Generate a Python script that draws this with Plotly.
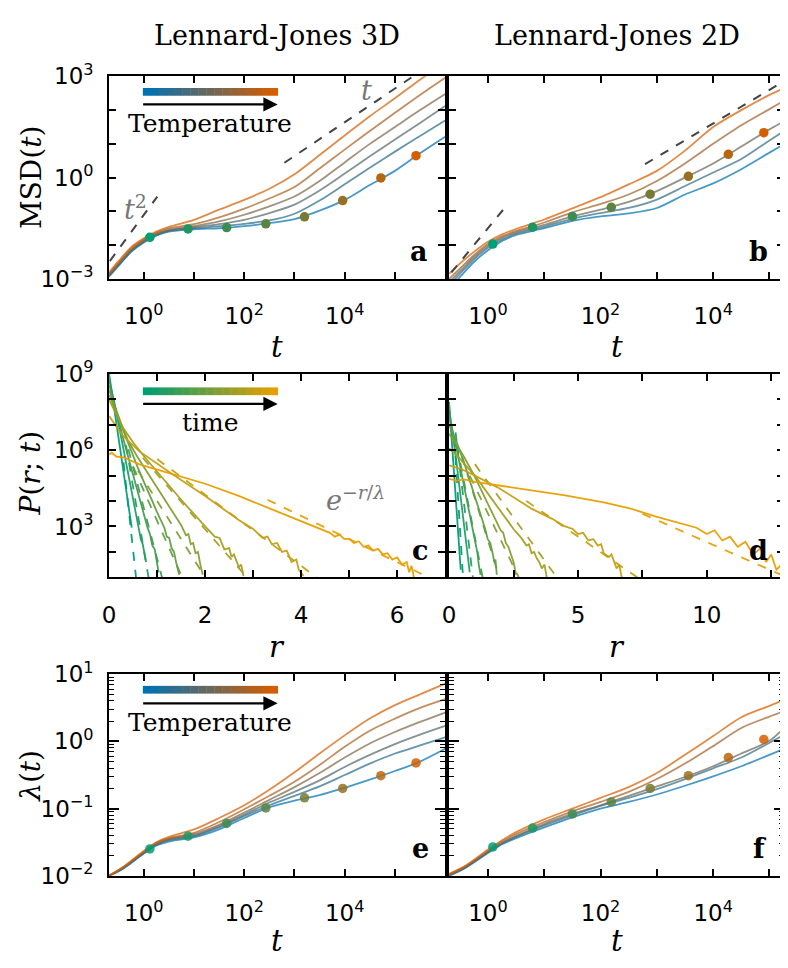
import numpy as np
import plotly.graph_objects as go

# ---------------- DATA ----------------
# Panel a: MSD(t), Lennard-Jones 3D (values are log10 of MSD), 6 temperatures (low -> high)
t_msd3d = [0.2, 0.32, 0.56, 1, 1.78, 3.16, 10, 31.6, 100, 316, 1000, 3162, 1e4, 3.16e4, 1e5, 3.16e5, 1e6]
msd3d_log10 = [
    [-2.94, -2.60, -2.20, -1.92, -1.72, -1.60, -1.53, -1.50, -1.44, -1.35, -1.23, -0.98, -0.66, -0.22, 0.20, 0.72, 1.21],
    [-2.92, -2.58, -2.18, -1.90, -1.70, -1.58, -1.50, -1.44, -1.37, -1.27, -1.07, -0.68, -0.20, 0.29, 0.77, 1.23, 1.69],
    [-2.90, -2.56, -2.16, -1.88, -1.68, -1.56, -1.47, -1.38, -1.25, -1.05, -0.80, -0.38, 0.12, 0.63, 1.13, 1.62, 2.12],
    [-2.88, -2.54, -2.14, -1.86, -1.66, -1.54, -1.44, -1.30, -1.10, -0.85, -0.56, -0.10, 0.45, 1.00, 1.50, 2.00, 2.48],
    [-2.86, -2.50, -2.10, -1.83, -1.63, -1.50, -1.38, -1.18, -0.92, -0.62, -0.28, 0.27, 0.83, 1.38, 1.92, 2.45, 2.96],
    [-2.82, -2.46, -2.06, -1.80, -1.60, -1.46, -1.25, -0.95, -0.66, -0.33, 0.10, 0.67, 1.25, 1.82, 2.35, 2.90, 3.42],
]
t_dots3d = [1.32, 7.6, 44.7, 269, 1585, 9120, 52500, 263000]
msd3d_dots_log10 = [-1.77, -1.52, -1.48, -1.37, -1.16, -0.68, -0.01, 0.65]
guide_t2_3d_t = [0.21, 1.86]
guide_t2_3d_msd = [3.35e-3, 0.275]
guide_t1_3d_t = [630, 2.3e5]
guide_t1_3d_msd = [2.75, 1000]

# Panel b: MSD(t), Lennard-Jones 2D, 5 temperatures
t_msd2d = [0.204, 0.316, 0.562, 1, 1.78, 3.16, 10, 31.6, 100, 316, 1000, 3162, 1e4, 3.16e4, 1e5, 1.82e5]
msd2d_log10 = [
    [-3.30, -2.95, -2.50, -2.15, -1.88, -1.70, -1.50, -1.28, -1.15, -1.06, -0.90, -0.50, -0.17, 0.25, 0.74, 0.99],
    [-3.20, -2.85, -2.42, -2.08, -1.83, -1.66, -1.45, -1.22, -1.05, -0.90, -0.65, -0.25, 0.15, 0.55, 1.10, 1.38],
    [-3.10, -2.78, -2.36, -2.02, -1.78, -1.62, -1.40, -1.15, -0.95, -0.72, -0.40, 0.00, 0.42, 0.92, 1.43, 1.67],
    [-3.00, -2.70, -2.30, -1.97, -1.74, -1.58, -1.33, -1.03, -0.78, -0.50, -0.10, 0.42, 1.00, 1.55, 2.03, 2.28],
    [-2.85, -2.55, -2.20, -1.90, -1.68, -1.52, -1.24, -0.91, -0.58, -0.20, 0.20, 0.80, 1.50, 2.00, 2.45, 2.65],
]
t_dots2d = [1.22, 6.2, 31.6, 155, 760, 3630, 18600, 79400]
msd2d_dots_log10 = [-1.97, -1.47, -1.15, -0.88, -0.49, 0.04, 0.69, 1.33]
guide_t2_2d_t = [0.224, 2.09]
guide_t2_2d_msd = [1.55e-3, 0.141]
guide_t1_2d_t = [617, 1.82e5]
guide_t1_2d_msd = [2.51, 724]

# Panel c: P(r;t), 3D, 8 times (log10 of P); solid = data, dashed = exponential fit
p3d_r = [
    [0, 0.1, 0.2, 0.3, 0.4, 0.47],
    [0, 0.1, 0.2, 0.3, 0.4, 0.5, 0.6, 0.66, 0.7, 0.74, 0.77],
    [0, 0.1, 0.2, 0.3, 0.4, 0.5, 0.6, 0.7, 0.8, 0.85, 0.9, 0.95, 1.0, 1.03],
    [0, 0.1, 0.2, 0.3, 0.4, 0.5, 0.6, 0.7, 0.8, 0.9, 1.0, 1.1, 1.15, 1.2, 1.25, 1.3, 1.35, 1.4, 1.46],
    [0, 0.1, 0.2, 0.3, 0.4, 0.6, 0.8, 1.0, 1.2, 1.4, 1.5, 1.6, 1.65, 1.7, 1.75, 1.8, 1.85, 1.9, 1.95],
    [0, 0.1, 0.2, 0.3, 0.5, 0.75, 1.0, 1.5, 2.0, 2.2, 2.3, 2.4, 2.5, 2.55, 2.6, 2.7, 2.75, 2.8],
    [0, 0.28, 0.63, 1.0, 1.32, 2.0, 2.7, 3.0, 3.2, 3.3, 3.39, 3.5, 3.6, 3.7, 3.8, 3.9, 3.95, 4.05],
    [0, 0.05, 0.15, 0.3, 0.63, 1.0, 1.32, 2.0, 2.7, 3.39, 4.0, 4.5, 4.6, 4.7, 4.8, 4.9, 5.0, 5.1, 5.2,
     5.3, 5.4, 5.5, 5.6, 5.7, 5.8, 5.9, 6.0, 6.1, 6.2, 6.25, 6.3, 6.35, 6.4],
]
p3d_log10 = [
    [9.0, 7.75, 6.45, 5.1, 3.85, 2.95],
    [8.75, 7.95, 7.0, 6.0, 5.0, 4.0, 3.0, 2.5, 2.3, 1.8, 1.6],
    [8.55, 7.9, 7.15, 6.4, 5.7, 5.0, 4.3, 3.6, 2.95, 2.7, 2.25, 2.1, 1.6, 1.2],
    [8.35, 7.85, 7.3, 6.75, 6.25, 5.75, 5.3, 4.85, 4.45, 4.0, 3.55, 3.1, 2.95, 2.6, 2.55, 2.15, 2.0, 1.55, 1.1],
    [8.16, 7.7, 7.2, 6.75, 6.35, 5.7, 5.1, 4.5, 3.9, 3.3, 3.05, 2.65, 2.7, 2.3, 2.35, 1.95, 2.0, 1.5, 1.1],
    [7.97, 7.6, 7.2, 6.85, 6.3, 5.7, 5.15, 4.05, 3.0, 2.6, 2.55, 2.1, 2.15, 1.8, 1.9, 1.4, 1.5, 1.05],
    [7.34, 6.58, 5.95, 5.45, 5.05, 4.2, 3.25, 2.9, 2.55, 2.6, 2.3, 2.35, 2.0, 2.05, 1.6, 1.7, 1.3, 1.05],
    [5.82, 5.9, 5.75, 5.72, 5.44, 5.25, 5.06, 4.68, 4.2, 3.67, 3.2, 2.8, 2.75, 2.6, 2.68, 2.5, 2.52, 2.35, 2.42,
     2.2, 2.25, 2.05, 2.12, 1.9, 1.95, 1.7, 1.78, 1.5, 1.6, 1.2, 1.45, 1.0, 0.9],
]
fit3d_r = [[0.3, 0.56], [0.35, 0.82], [0.4, 1.1], [0.5, 1.52], [0.6, 2.0], [0.7, 2.87], [1.0, 4.32], [3.3, 6.6]]
fit3d_log10 = [[5.52, 1.0], [6.2, 1.0], [6.04, 1.0], [5.35, 1.0], [5.2, 1.0], [5.7, 1.0], [5.65, 1.0], [4.05, 1.05]]

# Panel d: P(r;t), 2D, 8 times
p2d_r = [
    [0, 0.1, 0.2, 0.3, 0.4, 0.45],
    [0, 0.15, 0.3, 0.45, 0.6, 0.75, 0.8],
    [0, 0.2, 0.4, 0.6, 0.8, 1.0, 1.1, 1.15, 1.22],
    [0, 0.3, 0.6, 0.9, 1.2, 1.4, 1.5, 1.6, 1.7, 1.75, 1.8, 1.85],
    [0, 0.3, 0.6, 1.0, 1.5, 1.8, 2.0, 2.1, 2.2, 2.3, 2.4, 2.5, 2.6],
    [0, 0.3, 0.6, 1.0, 1.5, 2.0, 2.5, 2.8, 3.0, 3.1, 3.2, 3.3, 3.4, 3.5, 3.6, 3.7, 3.79],
    [0, 0.5, 1.0, 1.94, 2.5, 3.2, 4.0, 4.5, 4.8, 5.0, 5.2, 5.4, 5.6, 5.77, 5.9, 6.0, 6.2, 6.3, 6.5, 6.6, 6.7],
    [0, 0.3, 0.6, 1.0, 2.0, 3.0, 4.5, 6.0, 7.05, 8.0, 9.0, 9.6, 10.0, 10.3, 10.6, 10.9, 11.2, 11.5, 11.8,
     12.1, 12.3, 12.5, 12.7, 12.9, 13.0],
]
p2d_log10 = [
    [7.89, 6.5, 5.0, 3.4, 2.0, 1.3],
    [7.6, 6.6, 5.4, 4.1, 2.85, 1.6, 1.2],
    [7.29, 6.5, 5.5, 4.45, 3.4, 2.35, 1.95, 1.5, 1.1],
    [7.0, 6.3, 5.45, 4.5, 3.5, 2.9, 2.5, 2.35, 1.9, 1.6, 1.7, 1.1],
    [6.64, 6.2, 5.7, 4.95, 3.9, 3.25, 2.85, 2.75, 2.35, 2.2, 1.85, 1.6, 1.1],
    [6.07, 5.8, 5.45, 5.0, 4.3, 3.6, 2.9, 2.55, 2.25, 2.3, 1.95, 2.0, 1.75, 1.6, 1.35, 1.5, 1.0],
    [5.40, 5.25, 5.0, 4.5, 4.15, 3.7, 3.3, 3.0, 2.9, 2.7, 2.75, 2.45, 2.5, 2.25, 2.3, 1.95, 1.8, 1.9, 1.35, 1.5, 1.0],
    [4.87, 4.8, 4.85, 4.75, 4.6, 4.45, 4.22, 3.95, 3.7, 3.4, 3.1, 2.95, 2.7, 2.85, 2.45, 2.6, 2.2, 2.4, 1.9,
     2.15, 1.6, 1.9, 1.3, 1.5, 1.15],
]
fit2d_r = [[0.2, 0.54], [0.25, 0.92], [0.3, 1.3], [0.5, 1.95], [0.8, 2.7], [1.0, 4.18], [3.0, 7.3], [7.5, 13.0]]
fit2d_log10 = [[6.47, 1.0], [6.7, 1.0], [6.2, 1.0], [5.75, 1.0], [5.0, 1.0], [5.45, 1.0], [4.0, 1.0], [3.5, 1.05]]

# Panel e: lambda(t), 3D, 6 temperatures (log10 of lambda)
t_lam3d = [0.204, 0.398, 1, 1.78, 3.16, 10, 31.6, 100, 316, 1000, 3162, 1e4, 3.16e4, 1e5, 3.16e5, 1e6]
lam3d_log10 = [
    [-2.0, -1.89, -1.67, -1.55, -1.49, -1.43, -1.31, -1.14, -0.98, -0.88, -0.80, -0.69, -0.57, -0.44, -0.30, -0.11],
    [-2.0, -1.88, -1.66, -1.54, -1.47, -1.41, -1.28, -1.11, -0.95, -0.81, -0.67, -0.50, -0.33, -0.18, -0.06, 0.06],
    [-2.0, -1.88, -1.66, -1.53, -1.46, -1.40, -1.26, -1.09, -0.91, -0.75, -0.58, -0.38, -0.20, -0.04, 0.10, 0.23],
    [-2.0, -1.87, -1.65, -1.52, -1.45, -1.38, -1.24, -1.06, -0.87, -0.68, -0.47, -0.24, -0.03, 0.14, 0.29, 0.43],
    [-2.0, -1.87, -1.64, -1.51, -1.44, -1.36, -1.20, -1.01, -0.81, -0.60, -0.35, -0.08, 0.16, 0.34, 0.50, 0.63],
    [-2.0, -1.86, -1.63, -1.50, -1.42, -1.31, -1.14, -0.95, -0.72, -0.46, -0.18, 0.09, 0.34, 0.54, 0.70, 0.86],
]
lam3d_dots_log10 = [-1.60, -1.41, -1.22, -0.99, -0.84, -0.70, -0.51, -0.32]

# Panel f: lambda(t), 2D, 5 temperatures
t_lam2d = [0.204, 0.398, 1, 1.78, 3.16, 10, 31.6, 100, 316, 1000, 3162, 1e4, 3.16e4, 1e5, 1.82e5]
lam2d_log10 = [
    [-2.0, -1.88, -1.66, -1.53, -1.44, -1.28, -1.13, -1.00, -0.90, -0.79, -0.66, -0.52, -0.37, -0.20, -0.11],
    [-2.0, -1.88, -1.65, -1.52, -1.42, -1.25, -1.10, -0.96, -0.84, -0.71, -0.56, -0.40, -0.24, -0.02, 0.10],
    [-1.99, -1.87, -1.64, -1.51, -1.41, -1.23, -1.08, -0.95, -0.81, -0.67, -0.53, -0.37, -0.18, 0.01, 0.20],
    [-1.98, -1.86, -1.63, -1.49, -1.38, -1.20, -1.04, -0.90, -0.75, -0.56, -0.33, -0.07, 0.20, 0.37, 0.45],
    [-1.97, -1.85, -1.61, -1.47, -1.35, -1.16, -1.00, -0.84, -0.68, -0.47, -0.20, 0.08, 0.36, 0.53, 0.62],
]
lam2d_dots_log10 = [-1.57, -1.29, -1.08, -0.90, -0.70, -0.51, -0.24, 0.03]

# ---------------- STYLE ----------------
W, H = 788, 968
OX, OY = 8, 8  # page body margin: the figure is drawn 8 px right and down from the window corner
BLUE, VERM = (0, 114, 178), (213, 94, 0)
GREEN, ORANGE = (0, 158, 115), (230, 159, 0)
SERIF = "DejaVu Serif"
SANS = "DejaVu Sans"


def lerp(c0, c1, f):
    return tuple(round(c0[i] + (c1[i] - c0[i]) * f) for i in range(3))


def rgba(c, a=1.0):
    return f"rgba({c[0]},{c[1]},{c[2]},{a})"


def ramp(c0, c1, n):
    return [lerp(c0, c1, i / (n - 1)) for i in range(n)]


def pxx(px):  # window pixel -> paper fraction
    return (px - OX) / W


def pxy(py):
    return 1 - (py - OY) / H


fig = go.Figure()

panels = {  # left, right, top, bottom in window pixels
    1: (103, 442, 61, 270), 2: (446, 784, 61, 270),
    3: (103, 442, 368, 578), 4: (446, 784, 368, 578),
    5: (103, 442, 678, 886), 6: (446, 784, 678, 886),
}


def axn(i):
    return ("x" if i == 1 else f"x{i}"), ("y" if i == 1 else f"y{i}")


def line(i, x, y, color, width=1.8, dash=None, shape="linear"):
    xa, ya = axn(i)
    fig.add_trace(go.Scatter(x=x, y=y, mode="lines", xaxis=xa, yaxis=ya, showlegend=False,
                             hoverinfo="skip",
                             line=dict(color=color, width=width, dash=dash, shape=shape,
                                       smoothing=0.8 if shape == "spline" else None)))


def dots(i, x, y, colors):
    xa, ya = axn(i)
    fig.add_trace(go.Scatter(x=x, y=y, mode="markers", xaxis=xa, yaxis=ya, showlegend=False,
                             hoverinfo="skip", marker=dict(size=9.5, color=colors, line=dict(width=0))))


def p10(v):
    return [10 ** a for a in v]


dot_cols = ramp(GREEN, VERM, 8)

# Panel a
cols = ramp(BLUE, VERM, len(msd3d_log10))
for k, row in enumerate(msd3d_log10):
    line(1, t_msd3d, p10(row), rgba(cols[k], 0.72), shape="spline")
line(1, guide_t2_3d_t, guide_t2_3d_msd, "#444444", 2, "dash")
line(1, guide_t1_3d_t, guide_t1_3d_msd, "#444444", 2, "dash")
dots(1, t_dots3d, p10(msd3d_dots_log10), [rgba(c) for c in dot_cols])

# Panel b
cols = ramp(BLUE, VERM, len(msd2d_log10))
for k, row in enumerate(msd2d_log10):
    line(2, t_msd2d, p10(row), rgba(cols[k], 0.72), shape="spline")
line(2, guide_t2_2d_t, guide_t2_2d_msd, "#444444", 2, "dash")
line(2, guide_t1_2d_t, guide_t1_2d_msd, "#444444", 2, "dash")
dots(2, t_dots2d, p10(msd2d_dots_log10), [rgba(c) for c in dot_cols])

# Panel c
tcols = ramp(GREEN, ORANGE, 8)
for k in range(8):
    line(3, fit3d_r[k], p10(fit3d_log10[k]), rgba(tcols[k], 0.95), 1.8, "dash")
    line(3, p3d_r[k], p10(p3d_log10[k]), rgba(tcols[k], 0.95), 1.8)

# Panel d
for k in range(8):
    line(4, fit2d_r[k], p10(fit2d_log10[k]), rgba(tcols[k], 0.95), 1.8, "dash")
    line(4, p2d_r[k], p10(p2d_log10[k]), rgba(tcols[k], 0.95), 1.8)

# Panel e
cols = ramp(BLUE, VERM, len(lam3d_log10))
for k, row in enumerate(lam3d_log10):
    line(5, t_lam3d, p10(row), rgba(cols[k], 0.72), shape="spline")
dots(5, t_dots3d, p10(lam3d_dots_log10), [rgba(c, 0.85) for c in dot_cols])

# Panel f
cols = ramp(BLUE, VERM, len(lam2d_log10))
for k, row in enumerate(lam2d_log10):
    line(6, t_lam2d, p10(row), rgba(cols[k], 0.72), shape="spline")
dots(6, t_dots2d, p10(lam2d_dots_log10), [rgba(c, 0.85) for c in dot_cols])

# ---------------- AXES ----------------
def sup(e):
    s = str(e).replace("-", "\u2212")
    return f"10<sup>{s}</sup>"


TICKLEN = 7
base = dict(showline=True, linecolor="black", linewidth=2, mirror="ticks", ticks="inside",
            ticklen=TICKLEN, tickwidth=1.5, tickcolor="black", showgrid=False, zeroline=False,
            tickfont=dict(family=SANS, size=23, color="black"))


def minor_ticks(vals, ln=TICKLEN, w=1.5):
    return dict(tickmode="array", tickvals=vals, ticks="inside", ticklen=ln,
                tickwidth=w, tickcolor="black", showgrid=False)


layout = {}
for i, (l, r, t, b) in panels.items():
    xk = "xaxis" if i == 1 else f"xaxis{i}"
    yk = "yaxis" if i == 1 else f"yaxis{i}"
    xa, ya = axn(i)
    xd = dict(base, domain=[pxx(l), pxx(r)], anchor=ya, ticklabelstandoff=16)
    yd = dict(base, domain=[pxy(b), pxy(t)], anchor=xa, ticklabelstandoff=9)
    if i in (1, 2, 5, 6):
        xd.update(type="log", range=[-0.69, 6.0 if i in (1, 5) else 5.26],
                  tickmode="array", tickvals=[1, 100, 1e4], ticktext=[sup(0), sup(2), sup(4)],
                  minor=minor_ticks([10, 1000, 1e5]))
    if i in (1, 2):
        yd.update(type="log", range=[-3, 3], tickmode="array",
                  tickvals=[1e-3, 1, 1e3], ticktext=[sup(-3), sup(0), sup(3)],
                  minor=minor_ticks([1e-2, 1e-1, 10, 100]))
    if i in (3, 4):
        yd.update(type="log", range=[1, 9], tickmode="array",
                  tickvals=[1e3, 1e6, 1e9], ticktext=[sup(3), sup(6), sup(9)],
                  minor=minor_ticks([1e1, 1e2, 1e4, 1e5, 1e7, 1e8]))
    if i == 3:
        xd.update(range=[0, 7], tickmode="array", tickvals=[0, 2, 4, 6],
                  ticktext=["0", "2", "4", "6"], minor=minor_ticks([1, 3, 5]))
    if i == 4:
        xd.update(range=[0, 13], tickmode="array", tickvals=[0, 5, 10],
                  ticktext=["0", "5", "10"], minor=minor_ticks([2.5, 7.5, 12.5]))
    if i in (5, 6):
        minors = [m * 10 ** k for k in (-2, -1, 0) for m in range(2, 10)]
        yd.update(type="log", range=[-2, 1], tickmode="array", ticklen=10,
                  tickvals=[0.01, 0.1, 1, 10], ticktext=[sup(-2), sup(-1), sup(0), sup(1)],
                  minor=minor_ticks(minors, 5, 1.2))
    if i in (2, 4, 6):
        yd.update(showticklabels=False)
    layout[xk] = xd
    layout[yk] = yd

fig.update_layout(**layout)

# ---------------- DECORATIONS ----------------
ann = []
shapes = []


def text(px, py, s, size=24, color="black", family=SERIF, angle=0):
    ann.append(dict(x=pxx(px), y=pxy(py), xref="paper", yref="paper", text=s, showarrow=False,
                    xanchor="center", yanchor="middle", textangle=angle,
                    font=dict(family=family, size=size, color=color)))


def colorbar(x0, x1, ytop, ybot, c0, c1, n=17):
    step = (x1 - x0) / n
    for k, c in enumerate(ramp(c0, c1, n)):
        shapes.append(dict(type="rect", xref="paper", yref="paper",
                           x0=pxx(x0 + k * step), x1=pxx(x0 + (k + 1) * step + 0.4),
                           y0=pxy(ybot), y1=pxy(ytop), line=dict(width=0), fillcolor=rgba(c)))


def arrow(x0, x1, y):
    ann.append(dict(x=pxx(x1), y=pxy(y), xref="paper", yref="paper", ax=-(x1 - x0), ay=0,
                    axref="pixel", ayref="pixel", text="", showarrow=True, arrowhead=2,
                    arrowsize=1.3, arrowwidth=2.2, arrowcolor="black", standoff=0))


text(272, 19, "Lennard-Jones 3D", 27)
text(615, 19, "Lennard-Jones 2D", 27)

colorbar(137, 273, 73, 81, BLUE, VERM)
arrow(137, 273, 90)
text(205, 110, "Temperature", 25)

colorbar(137, 273, 382, 390, GREEN, ORANGE)
arrow(137, 273, 399)
text(205, 418, "time", 25)

colorbar(137, 273, 690, 698, BLUE, VERM)
arrow(137, 273, 708)
text(205, 728, "Temperature", 25)

GRAY = "#777777"
text(363, 76, "<i>t</i>", 27, GRAY)
text(130, 196, "<i>t</i><sup>2</sup>", 27, GRAY)
text(352, 497, "<i>e</i><sup>\u2212<i>r</i>/<i>\u03bb</i></sup>", 27, GRAY)

for (px, py, s) in [(416, 242, "a"), (758, 242, "b"), (417, 550, "c"), (758, 550, "d"),
                    (417, 858, "e"), (760, 858, "f")]:
    text(px, py, f"<b>{s}</b>", 27)

text(272, 340, "<i>t</i>", 29)
text(615, 340, "<i>t</i>", 29)
text(272, 650, "<i>r</i>", 29)
text(615, 650, "<i>r</i>", 29)
text(272, 953, "<i>t</i>", 29)
text(615, 953, "<i>t</i>", 29)
text(24, 165, "MSD(<i>t</i>)", 28, angle=-90)
text(24, 470, "<i>P</i>(<i>r</i>; <i>t</i>)", 28, angle=-90)
text(24, 783, "<i>\u03bb</i>(<i>t</i>)", 28, angle=-90)

fig.update_layout(width=W, height=H, margin=dict(l=0, r=0, t=0, b=0),
                  paper_bgcolor="white", plot_bgcolor="white",
                  annotations=ann, shapes=shapes, showlegend=False)

fig.write_html("out.html")
